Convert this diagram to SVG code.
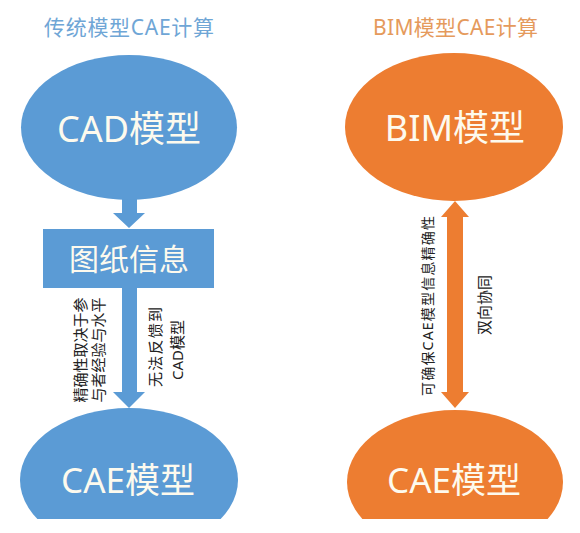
<svg xmlns="http://www.w3.org/2000/svg" width="580" height="533" viewBox="0 0 580 533">
<defs>
<style>
text{font-family:"Noto Sans","Noto Sans CJK SC",sans-serif;}
.blue{fill:#5b9bd5;}
.orange{fill:#ed7d31;}
.big{fill:#fdfaee;text-anchor:middle;}
.title{font-size:21px;}
.note{fill:#222;font-size:15px;text-anchor:middle;dominant-baseline:central;}
</style>
<clipPath id="clipBottom"><rect x="0" y="0" width="580" height="519"/></clipPath>
</defs>
<rect width="580" height="533" fill="#ffffff"/>

<g id="title-left"><text class="title" x="44" y="35" fill="#6fa6d6" textLength="170" lengthAdjust="spacing">传统模型CAE计算</text></g>
<g id="title-right"><text class="title" x="373" y="35" fill="#e59a5c" textLength="165" lengthAdjust="spacing">BIM模型CAE计算</text></g>

<g id="connectors">
  <path class="blue" d="M122,199 H137 V213 H145 L129,228 L113,213 H122 Z"/>
  <path class="blue" d="M122,288 H137 V392 H145 L129,408 L113,392 H122 Z"/>
  <path class="orange" d="M455,201 L469,217 H463 V392 H469 L455,408 L441,392 H447 V217 H441 Z"/>
  <text class="note" transform="translate(80,350) rotate(-90)">精确性取决于参</text>
  <text class="note" transform="translate(98,350) rotate(-90)">与者经验与水平</text>
  <text class="note" transform="translate(155,347) rotate(-90)" textLength="80" lengthAdjust="spacing">无法反馈到</text>
  <text class="note" transform="translate(177,350) rotate(-90)">CAD模型</text>
  <text class="note" style="font-size:14px" transform="translate(427,306) rotate(-90)" textLength="180" lengthAdjust="spacing">可确保CAE模型信息精确性</text>
  <text class="note" transform="translate(484,305) rotate(-90)">双向协同</text>
</g>

<g id="cad-model">
  <ellipse class="blue" cx="129" cy="127.5" rx="108" ry="72.5"/>
  <text class="big" x="129" y="142" font-size="36">CAD模型</text>
</g>
<g id="drawing-info">
  <rect class="blue" x="43" y="229" width="171" height="59"/>
  <text class="big" x="129" y="270" font-size="30">图纸信息</text>
</g>
<g id="cae-model-left" clip-path="url(#clipBottom)">
  <ellipse class="blue" cx="129" cy="480" rx="109" ry="72"/>
  <text class="big" x="128" y="493" font-size="35">CAE模型</text>
</g>
<g id="bim-model">
  <ellipse class="orange" cx="454" cy="127" rx="109" ry="74"/>
  <text class="big" x="455" y="141" font-size="36">BIM模型</text>
</g>
<g id="cae-model-right" clip-path="url(#clipBottom)">
  <ellipse class="orange" cx="455" cy="482" rx="108" ry="72"/>
  <text class="big" x="454" y="493" font-size="35">CAE模型</text>
</g>
</svg>
